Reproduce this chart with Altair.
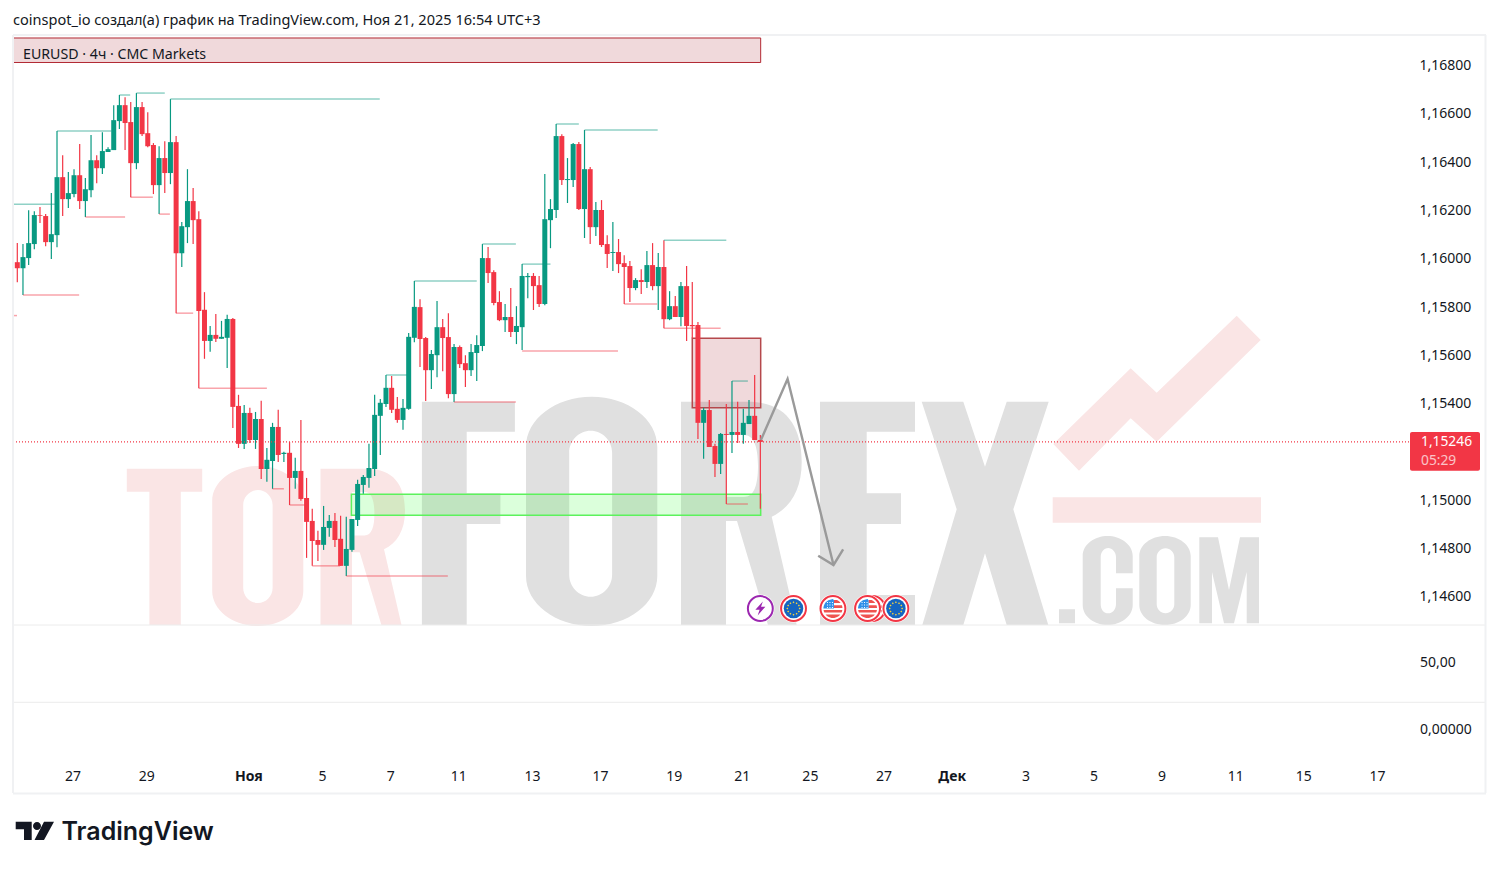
import math
import altair as alt
import pandas as pd

# ---- candles (EURUSD 4h) ----
opens = [1.15990,1.15965,1.16007,1.16065,1.16185,1.16181,1.16073,1.16102,1.16342,1.16251,
1.16272,1.16350,1.16243,1.16288,1.16412,1.16379,1.16446,1.16454,1.16574,1.16640,
1.16570,1.16400,1.16632,1.16524,1.16475,1.16309,1.16421,1.16359,1.16487,1.16027,
1.16135,1.16243,1.16168,1.15793,1.15664,1.15689,1.15673,1.15677,1.15755,1.15395,
1.15238,1.15366,1.15254,1.15341,1.15134,1.15167,1.15308,1.15196,1.15201,1.15097,
1.15126,1.15014,1.14919,1.14840,1.14820,1.14890,1.14919,1.14845,1.14733,1.14799,
1.14923,1.15068,1.15097,1.15134,1.15354,1.15403,1.15470,1.15383,1.15337,1.15383,
1.15677,1.15804,1.15676,1.15543,1.15605,1.15721,1.15680,1.15444,1.15639,1.15572,
1.15543,1.15614,1.15643,1.16007,1.15949,1.15825,1.15750,1.15763,1.15701,1.15721,
1.15928,1.15933,1.15895,1.15817,1.16164,1.16206,1.16512,1.16330,1.16330,1.16479,
1.16210,1.16375,1.16135,1.16206,1.16065,1.16028,1.16032,1.15986,1.15974,1.15883,
1.15916,1.15908,1.15978,1.15891,1.15970,1.15754,1.15808,1.15763,1.15891,1.15730,
1.15730,1.15325,1.15378,1.15229,1.15155,1.15279,1.15275,1.15287,1.15275,1.15320,
1.15354,1.15254]
highs = [1.16069,1.16065,1.16205,1.16201,1.16218,1.16189,1.16276,1.16533,1.16433,1.16363,
1.16375,1.16479,1.16338,1.16516,1.16433,1.16528,1.16466,1.16640,1.16682,1.16673,
1.16653,1.16690,1.16653,1.16611,1.16483,1.16470,1.16491,1.16665,1.16512,1.16156,
1.16375,1.16297,1.16201,1.15866,1.15726,1.15776,1.15747,1.15772,1.15759,1.15441,
1.15399,1.15387,1.15370,1.15416,1.15221,1.15325,1.15379,1.15205,1.15246,1.15180,
1.15337,1.15097,1.14969,1.14878,1.14981,1.14944,1.14952,1.14940,1.14936,1.14927,
1.15089,1.15109,1.15238,1.15441,1.15424,1.15523,1.15519,1.15432,1.15424,1.15697,
1.15912,1.15837,1.15680,1.15626,1.15829,1.15755,1.15779,1.15651,1.15645,1.15605,
1.15651,1.15688,1.16065,1.16053,1.15957,1.15870,1.15817,1.15883,1.15808,1.15982,
1.15945,1.15945,1.15933,1.16355,1.16251,1.16562,1.16520,1.16421,1.16483,1.16487,
1.16537,1.16384,1.16239,1.16247,1.16102,1.16156,1.16086,1.16019,1.15995,1.15924,
1.15961,1.16036,1.16069,1.16028,1.16081,1.15870,1.15850,1.15908,1.15974,1.15908,
1.15742,1.15387,1.15420,1.15238,1.15283,1.15403,1.15498,1.15412,1.15383,1.15420,
1.15523,1.15275]
lows = [1.15907,1.15854,1.15978,1.16044,1.16152,1.16056,1.16003,1.16052,1.16181,1.16214,
1.16259,1.16210,1.16177,1.16259,1.16317,1.16355,1.16446,1.16454,1.16541,1.16454,
1.16259,1.16375,1.16512,1.16466,1.16272,1.16189,1.16276,1.16313,1.15779,1.15970,
1.16069,1.16065,1.15468,1.15590,1.15619,1.15660,1.15673,1.15552,1.15304,1.15221,
1.15217,1.15242,1.15217,1.15093,1.15081,1.15052,1.15163,1.15163,1.14985,1.15052,
1.15002,1.14766,1.14733,1.14753,1.14799,1.14853,1.14811,1.14733,1.14691,1.14791,
1.14898,1.15031,1.15056,1.15105,1.15192,1.15391,1.15366,1.15325,1.15296,1.15379,
1.15659,1.15556,1.15415,1.15465,1.15514,1.15539,1.15427,1.15411,1.15552,1.15473,
1.15519,1.15498,1.15622,1.15904,1.15812,1.15746,1.15701,1.15680,1.15651,1.15626,
1.15841,1.15792,1.15804,1.15812,1.16048,1.16173,1.16309,1.16235,1.16301,1.16206,
1.16090,1.16065,1.16098,1.16053,1.15966,1.15953,1.15945,1.15817,1.15825,1.15874,
1.15858,1.15883,1.15874,1.15792,1.15717,1.15750,1.15763,1.15725,1.15664,1.15675,
1.15258,1.15176,1.15225,1.15101,1.15113,1.14989,1.15200,1.15242,1.15238,1.15320,
1.15254,1.14969]
closes = [1.15965,1.16011,1.16069,1.16185,1.16182,1.16073,1.16106,1.16342,1.16251,1.16276,
1.16350,1.16243,1.16292,1.16412,1.16379,1.16450,1.16458,1.16578,1.16640,1.16566,
1.16400,1.16632,1.16520,1.16470,1.16309,1.16421,1.16359,1.16487,1.16027,1.16139,
1.16243,1.16164,1.15788,1.15664,1.15689,1.15673,1.15681,1.15755,1.15391,1.15238,
1.15366,1.15254,1.15341,1.15134,1.15172,1.15308,1.15192,1.15201,1.15097,1.15126,
1.15010,1.14915,1.14836,1.14820,1.14894,1.14919,1.14840,1.14733,1.14803,1.14927,
1.15072,1.15101,1.15138,1.15358,1.15408,1.15470,1.15379,1.15337,1.15387,1.15681,
1.15805,1.15672,1.15543,1.15610,1.15721,1.15676,1.15444,1.15639,1.15568,1.15543,
1.15618,1.15647,1.16007,1.15945,1.15821,1.15750,1.15763,1.15701,1.15726,1.15933,
1.15933,1.15891,1.15817,1.16168,1.16210,1.16512,1.16330,1.16334,1.16479,1.16210,
1.16375,1.16135,1.16206,1.16061,1.16024,1.16032,1.15982,1.15970,1.15883,1.15916,
1.15908,1.15978,1.15891,1.15970,1.15754,1.15808,1.15763,1.15891,1.15726,1.15725,
1.15325,1.15378,1.15225,1.15155,1.15279,1.15275,1.15287,1.15275,1.15325,1.15354,
1.15254,1.15246]

# swing-level lines: first bar, last bar, price
high_n1 = [0.24,8,19,22,28,66,71,83,90,96,101,115,127]
high_n2 = [8,17.6,20.9,27,64.9,69.7,82,88.9,95,100,113.9,126,129.8]
high_p = [1.16230,1.16533,1.16682,1.16690,1.16665,1.15523,1.15912,1.16065,1.15982,1.16562,1.16537,1.16081,1.15498]
low_n1 = [2,0.24,13,21,26,29,33,46,49,53,59,78,90,108,115,126]
low_n2 = [11.9,0.95,20,24.9,27.9,32,45,48,51.7,57.9,76.9,88.9,106.9,113.8,125,129.8]
low_p = [1.15854,1.15769,1.16177,1.16259,1.16189,1.15779,1.15468,1.15052,1.14985,1.14733,1.14691,1.15411,1.15622,1.15817,1.15717,1.14989]

# drawn zones
zone_red = (120.0, 132.06, 1.156749, 1.153877)
zone_green = (59.9, 132.06, 1.150292, 1.149423)
banner = (0.2419, 132.06, 1.16918, 1.168166)
last_price = 1.15246

# arrow drawing
shaft_n = [132.1, 136.8, 144.9]
shaft_p = [1.15254, 1.155065, 1.147366]
head_n = [142.2, 144.9, 146.6]
head_p = [1.147751, 1.147366, 1.148015]

# axis content
price_ticks = [1.146,1.148,1.150,1.154,1.156,1.158,1.160,1.162,1.164,1.166,1.168]
date_n = [11,24,42,55,67,79,92,104,117,129,141,154,166,179,191,203,216,228,241]
date_labels = ["27","29","Ноя","5","7","11","13","17","19","21","25","27","Дек","3","5","9","11","15","17"]
date_bold = ["Ноя","Дек"]

# calendar events
event_n = [132.0, 137.85, 144.8, 151.8, 155.9, 150.9]
event_kind = ["flash","eu","us","us","eu","us"]

TEAL = "#089981"
RED = "#F23645"
FONT = "Noto Sans"
INK = "#131722"
X0, Y0 = 13, 35   # page position of the plot's corner

axis_y = alt.Axis(values=price_ticks, orient="right", domain=False, ticks=False, grid=False, title=None,
                  labelExpr="replace(format(datum.value,'.5f'),'.',',')", labelFont=FONT, labelFontSize=14,
                  labelColor=INK, labelPadding=10, labelAlign="left", labelOffset=-1, labelBaseline="middle")
xs = alt.Scale(domain=[0.2419, 246.36], nice=False, zero=False, padding=0)
ys = alt.Scale(domain=[1.137845, 1.169304], nice=False, zero=False)
X = lambda f="n": alt.X(f, type="quantitative", scale=xs, axis=None, title=None)
Y = lambda f="p": alt.Y(f, type="quantitative", scale=ys, axis=axis_y, title=None)
one = alt.Data(values=[{"k": 0}])


def pt(x, y):
    return f"{x-X0:.1f},{y-Y0:.1f}"


def poly(points):
    return "M" + " L".join(pt(x, y) for x, y in points) + " Z"


def oval(x0, y0, x1, y1, ry, rev=False):
    cx, rx = (x0+x1)/2, (x1-x0)/2
    a, b = 0.55*rx, 0.55*ry
    c = lambda x1_, y1_, x2_, y2_, x3_, y3_: f"C{pt(x1_,y1_)} {pt(x2_,y2_)} {pt(x3_,y3_)} "
    if not rev:
        return (f"M{pt(x0,y0+ry)} " + c(x0,y0+ry-b,cx-a,y0,cx,y0) + c(cx+a,y0,x1,y0+ry-b,x1,y0+ry)
                + f"L{pt(x1,y1-ry)} " + c(x1,y1-ry+b,cx+a,y1,cx,y1) + c(cx-a,y1,x0,y1-ry+b,x0,y1-ry) + "Z")
    return (f"M{pt(x0,y0+ry)} L{pt(x0,y1-ry)} " + c(x0,y1-ry+b,cx-a,y1,cx,y1) + c(cx+a,y1,x1,y1-ry+b,x1,y1-ry)
            + f"L{pt(x1,y0+ry)} " + c(x1,y0+ry-b,cx+a,y0,cx,y0) + c(cx-a,y0,x0,y0+ry-b,x0,y0+ry) + "Z")


def letter_r(left, k):
    t = lambda x, y: pt(left+(x-681)*k, 625-(625-y)*k)
    return (f"M{t(681,401.7)} L{t(748,401.7)} C{t(785,401.7)} {t(801.7,425)} {t(801.7,462)} "
            f"C{t(801.7,490)} {t(790,508)} {t(771.7,516.7)} L{t(796.7,625)} L{t(768,625)} L{t(737,521)} "
            f"L{t(726,521)} L{t(726,625)} L{t(681,625)} Z "
            f"M{t(726,435)} L{t(726,497)} L{t(744,497)} C{t(754,497)} {t(758,485)} {t(758,466)} "
            f"C{t(758,447)} {t(754,435)} {t(744,435)} Z")


grey_path = " ".join([
    poly([(421.9,401.7),(514.9,401.7),(514.9,431.7),(466.7,431.7),(466.7,493.3),(500.4,493.3),(500.4,524),(466.7,524),(466.7,625),(421.9,625)]),
    oval(526,396.7,657.3,626,50), oval(569.2,430.7,612.1,596.7,22,True),
    letter_r(681,1.0),
    poly([(820,401.7),(915,401.7),(915,431.7),(866.7,431.7),(866.7,493.3),(901,493.3),(901,524),(866.7,524),(866.7,595),(915,595),(915,625),(820,625)]),
    poly([(921.7,401.7),(963.3,401.7),(985,466.7),(1006.7,401.7),(1048.7,401.7),(1013.3,509.3),(1048.3,625),(1006.7,625),(985,553.3),(963.3,625),(922.3,625),(956.7,509.3)]),
    poly([(1059,609.3),(1075,609.3),(1075,623.3),(1059,623.3)]),
    "M"+pt(1132.7,573.3)+" L"+pt(1132.7,556)+" C"+pt(1132.7,544)+" "+pt(1120,536)+" "+pt(1107.7,536)+" C"+pt(1095,536)+" "+pt(1082.7,544)+" "+pt(1082.7,556)
    +" L"+pt(1082.7,605)+" C"+pt(1082.7,617)+" "+pt(1095,625)+" "+pt(1107.7,625)+" C"+pt(1120,625)+" "+pt(1132.7,617)+" "+pt(1132.7,605)
    +" L"+pt(1132.7,588.3)+" L"+pt(1116,588.3)+" L"+pt(1116,604)+" C"+pt(1116,610)+" "+pt(1112,613.3)+" "+pt(1108.3,613.3)+" C"+pt(1104,613.3)+" "+pt(1100.7,610)+" "+pt(1100.7,604)
    +" L"+pt(1100.7,557)+" C"+pt(1100.7,552)+" "+pt(1104,548)+" "+pt(1108.3,548)+" C"+pt(1112,548)+" "+pt(1116,552)+" "+pt(1116,557)+" L"+pt(1116,573.3)+" Z",
    oval(1139.3,536,1190.7,625,20), oval(1156.7,548.3,1174.3,613.3,9,True),
    poly([(1199.3,537.3),(1218,537.3),(1229,590),(1240,537.3),(1259,537.3),(1259,623.3),(1246.7,623.3),(1246.7,572),(1234,623.3),(1224,623.3),(1212,572),(1212,623.3),(1199.3,623.3)]),
])
pink_path = " ".join([
    poly([(126.8,468.7),(202.2,468.7),(202.2,491.7),(180.8,491.7),(180.8,625),(149.4,625),(149.4,491.7),(126.8,491.7)]),
    oval(212.2,466,303.3,626,35), oval(243.2,490,272.6,603,15,True),
    letter_r(320.5,0.7),
    poly([(1236.7,315.7),(1260.7,340),(1156.7,441.7),(1130.7,418.3),(1079,470.7),(1053.3,444),(1130.7,368.3),(1156.7,392.7)]),
    poly([(1052.7,497.3),(1261,497.3),(1261,522.7),(1052.7,522.7)]),
])

logo_path = " ".join([
    poly([(15.7,821.7),(31.7,821.7),(31.7,840),(24,840),(24,829.3),(15.7,829.3)]),
    poly([(54,821.7),(44,840),(34.5,840),(44,821.7)]),
    oval(33,822,41,830,4),
])


def shape(path, color):
    return alt.Chart(one).mark_point(shape=path, filled=True, size=4, opacity=1, fill=color, strokeWidth=0).encode(
        x=alt.value(0), y=alt.value(0))


def txt(label, x, y, size=14, color=INK, align="left", weight="normal", font=FONT, opacity=1):
    return alt.Chart(one).mark_text(text=label, align=align, baseline="middle", font=font, fontSize=size,
                                    color=color, fontWeight=weight, opacity=opacity).encode(
        x=alt.value(x-X0), y=alt.value(y-Y0))


def frame_h(y, color="#ececec", w=1):
    return alt.Chart(one).mark_rule(color=color, strokeWidth=w).encode(
        x=alt.value(0), x2=alt.value(1473), y=alt.value(y-Y0))


def frame_v(x, color="#f0f1f3", w=2):
    return alt.Chart(one).mark_rule(color=color, strokeWidth=w).encode(
        x=alt.value(x-X0), y=alt.value(0), y2=alt.value(758))


# ---- tables ----
candles = pd.DataFrame({"n": range(1, len(opens)+1), "o": opens, "h": highs, "l": lows, "c": closes})
candles["dir"] = ["up" if c >= o else "down" for o, c in zip(opens, closes)]
color = alt.Color("dir:N", scale=alt.Scale(domain=["up", "down"], range=[TEAL, RED]), legend=None)
levels = pd.DataFrame({"n1": high_n1+low_n1, "n2": high_n2+low_n2, "p": high_p+low_p,
                       "dir": ["up"]*len(high_p)+["down"]*len(low_p)})


def zone(values, fill, stroke, alpha, width=1.5):
    df = pd.DataFrame([dict(zip(["a", "b", "t", "u"], values))])
    return alt.Chart(df).mark_rect(fill=fill, fillOpacity=alpha, stroke=stroke, strokeWidth=width).encode(
        x=X("a"), x2="b:Q", y=Y("t"), y2="u:Q")


wicks = alt.Chart(candles).mark_rule(strokeWidth=1.2).encode(
    x=X(), y=Y("h"), y2="l:Q", color=color)
bodies = alt.Chart(candles).mark_bar(size=5, orient="vertical").encode(x=X(), y=Y("o"), y2="c:Q", color=color)
level_lines = alt.Chart(levels).mark_rule(strokeWidth=1.5, opacity=0.45).encode(
    x=X("n1"), x2="n2:Q", y=Y("p"), color=color)

price_line = alt.Chart(pd.DataFrame({"p": [last_price]})).mark_rule(color=RED, strokeWidth=1.4, strokeDash=[1, 2]).encode(
    x=alt.value(0), x2=alt.value(1396), y=Y("p"))

arrow_df = pd.DataFrame({"n": shaft_n+head_n, "p": shaft_p+head_p, "part": ["shaft"]*3+["head"]*3,
                         "i": list(range(6))})
arrow = alt.Chart(arrow_df).mark_line(color="#9a9a9a", strokeWidth=2.4, strokeJoin="miter").encode(
    x=X(), y=Y("p"), detail="part:N", order="i:Q")

dates = pd.DataFrame({"n": date_n, "t": date_labels})
dates["w"] = ["bold" if t in date_bold else "normal" for t in date_labels]
date_reg = alt.Chart(dates[dates.w == "normal"]).mark_text(font=FONT, fontSize=14, color=INK, baseline="middle", dx=-1).encode(
    x=X(), y=alt.value(777-Y0), text="t:N")
date_bld = alt.Chart(dates[dates.w == "bold"]).mark_text(font=FONT, fontSize=14, color=INK, baseline="middle", fontWeight="bold", dx=-1).encode(
    x=X(), y=alt.value(777-Y0), text="t:N")

tag = alt.Chart(one).mark_rect(color=RED, cornerRadius=2).encode(
    x=alt.value(1410-X0), x2=alt.value(1480-X0), y=alt.value(432-Y0), y2=alt.value(470.7-Y0))


# ---- calendar icons ----
def band(y0, y1, xmin=None, R=9.5):
    steps = [y0+(y1-y0)*i/6 for i in range(7)]
    right = [(math.sqrt(max(R*R-y*y, 0)), y) for y in steps]
    if xmin is None:
        left = [(-math.sqrt(max(R*R-y*y, 0)), y) for y in reversed(steps)]
    else:
        left = [(xmin, y1), (xmin, y0)]
    return "M" + " L".join(f"{x:.2f},{y:.2f}" for x, y in right+left) + " Z"


def canton(R=9.5):
    ys_ = [-R+R*i/8 for i in range(9)]
    right = [(min(1.0, math.sqrt(max(R*R-y*y, 0))), y) for y in ys_]
    left = [(-math.sqrt(max(R*R-y*y, 0)), y) for y in reversed(ys_)]
    return "M" + " L".join(f"{x:.2f},{y:.2f}" for x, y in right+left) + " Z"


stars = []
for k in range(12):
    a = k*math.pi/6
    cx, cy = 6.2*math.cos(a), 6.2*math.sin(a)
    stars.append(f"M{cx:.2f},{cy-1:.2f} L{cx+1:.2f},{cy:.2f} L{cx:.2f},{cy+1:.2f} L{cx-1:.2f},{cy:.2f} Z")
stars_path = " ".join(stars)
stripes = " ".join([band(-8.6, -5.6, 1.0), band(-3.2, -0.6, 1.0), band(1.5, 4), band(6, 9.4)])
dots_path = " ".join(f"M{x-.5:.1f},{y-.5:.1f} L{x+.5:.1f},{y-.5:.1f} L{x+.5:.1f},{y+.5:.1f} L{x-.5:.1f},{y+.5:.1f} Z"
                     for x in (-5.5, -3, -0.5) for y in (-6, -3.5, -1))
flash_path = "M2.5,-7 L-5,1.2 L-0.7,1.2 L-2.7,7 L5,-1.7 L0.7,-1.7 Z"


def icon(n, kind):
    d = pd.DataFrame({"n": [n]})
    yv = alt.value(608.5-Y0)
    ring = RED if kind != "flash" else "#9C27B0"
    out = [alt.Chart(d).mark_point(shape="circle", filled=True, size=784, fill="white", opacity=1, strokeWidth=0).encode(x=X(), y=yv),
           alt.Chart(d).mark_point(shape="circle", size=620, stroke=ring, strokeWidth=2, fill="white", filled=False, opacity=1).encode(x=X(), y=yv)]

    def glyph(path, col):
        return alt.Chart(d).mark_point(shape=path, filled=True, size=4, fill=col, opacity=1, strokeWidth=0).encode(x=X(), y=yv)
    if kind == "eu":
        out += [alt.Chart(d).mark_point(shape="circle", filled=True, size=380, fill="#1565C0", opacity=1, strokeWidth=0).encode(x=X(), y=yv),
                glyph(stars_path, "#F9D33C")]
    elif kind == "us":
        out += [glyph(stripes, "#EF5350"), glyph(canton(), "#2F8FE8"), glyph(dots_path, "#FFFFFF")]
    else:
        out += [glyph(flash_path, "#9C27B0")]
    return out


icons = []
for n_, k_ in zip(event_n, event_kind):
    icons += icon(n_, k_)

layers = [
    shape(pink_path, "#FAE5E5"), shape(grey_path, "#E0E0E0"),
    zone(banner, "#99000D", "#B22833", 0.15, 1),
    zone(zone_red, "#99000D", "#B5484C", 0.15),
    zone(zone_green, "#00FF00", "#5CF25C", 0.14),
    wicks, bodies, level_lines, price_line, arrow,
    frame_h(35, "#f0f1f3", 2), frame_h(625), frame_h(702.3), frame_h(793.5, "#f0f1f3", 2),
    frame_v(13), frame_v(1485.5),
    date_reg, date_bld, tag,
    txt("1,15246", 1421, 441.5, 13.8, "#FFFFFF"),
    txt("05:29", 1421, 461, 13.8, "#FFFFFF", opacity=0.7),
    txt("50,00", 1420, 663), txt("0,00000", 1420, 730),
    txt("coinspot_io создал(а) график на TradingView.com, Ноя 21, 2025 16:54 UTC+3", 13, 20.5, 14.55),
    txt("EURUSD · 4ч · CMC Markets", 23, 55, 14.2),
    shape(logo_path, INK),
    txt("TradingView", 61.5, 832, 25, INK, weight=600, font="Inter"),
] + icons

chart = alt.layer(*layers).properties(
    width=1396, height=760, autosize="none",
    padding={"left": 5, "top": 27, "right": 82, "bottom": 55},
    background="white",
).configure_view(stroke=None)

chart.save("out.html", embed_options={"renderer": "svg", "actions": False})
